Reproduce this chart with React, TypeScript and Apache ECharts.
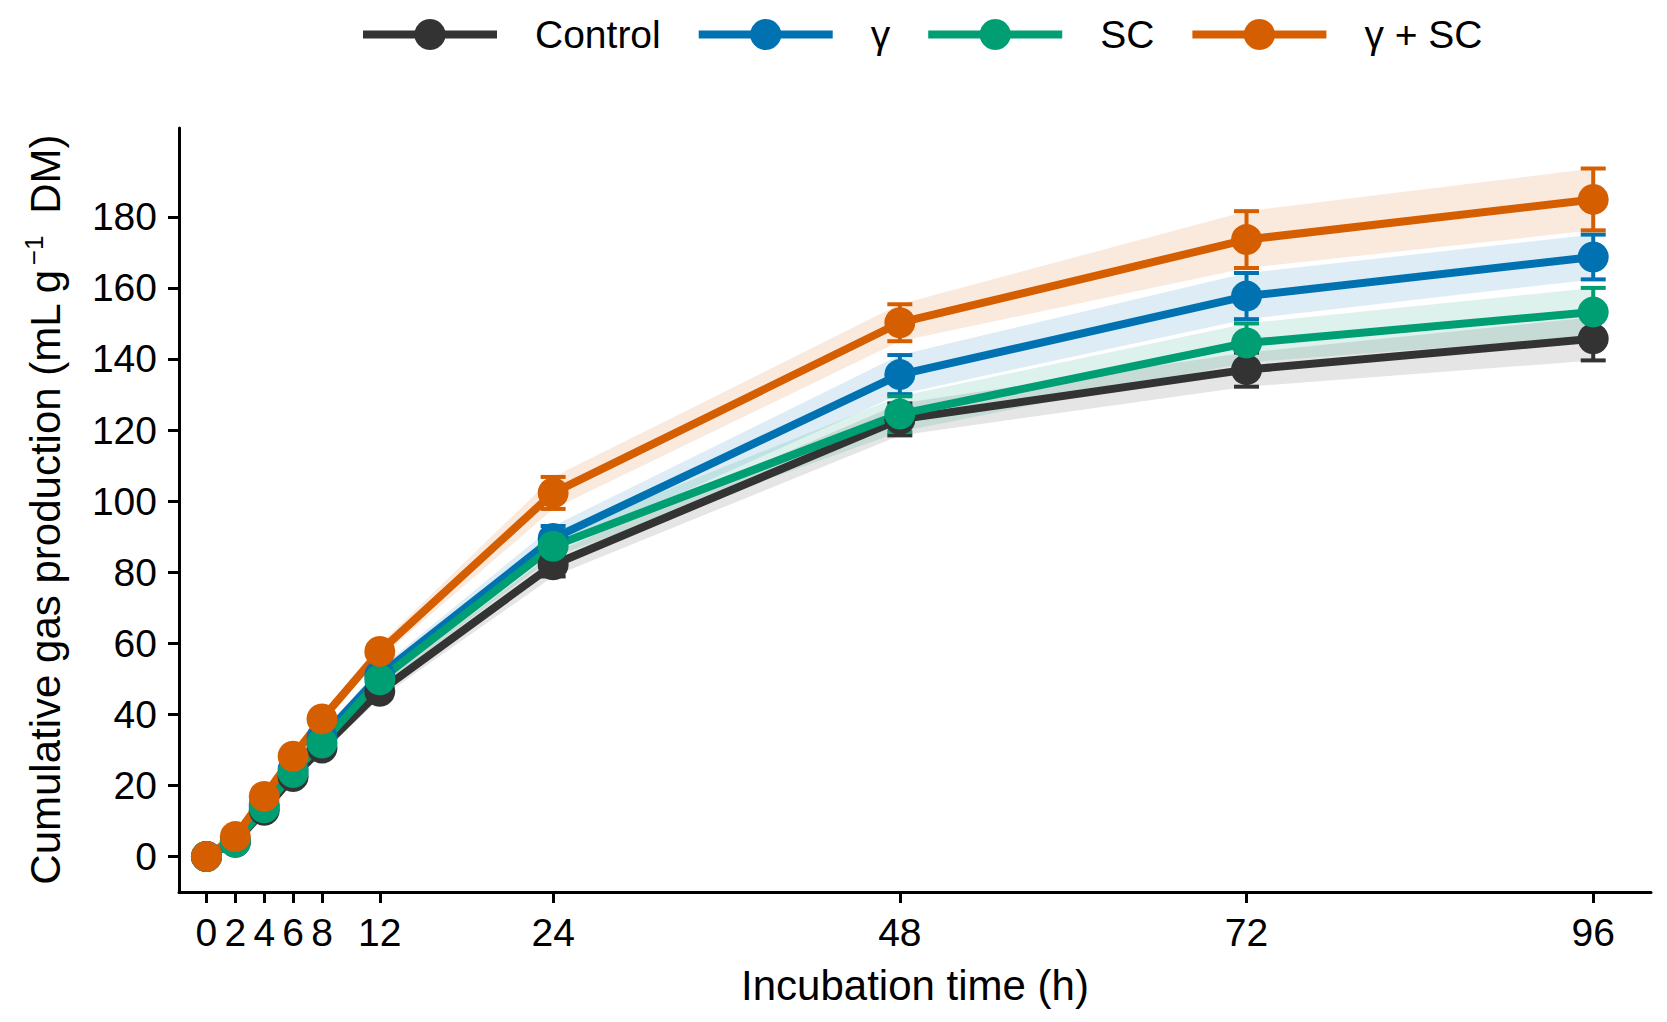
import React, { useEffect, useRef } from "react";
import * as echarts from "echarts";

const times = [0, 2, 4, 6, 8, 12, 24, 48, 72, 96];
const xTickValues = [0, 2, 4, 6, 8, 12, 24, 48, 72, 96];
const yTickValues = [0, 20, 40, 60, 80, 100, 120, 140, 160, 180];

const groupNames = ["Control", "γ", "SC", "γ + SC"];
const groupColors = ["#333333", "#0072B2", "#009E73", "#D55E00"];

const controlMean = [0, 4.0, 13.0, 22.5, 30.5, 46.5, 82.1, 123.0, 137.0, 145.7];
const gammaMean = [0, 4.5, 14.5, 24.5, 33.5, 51.0, 89.5, 135.6, 157.7, 168.7];
const scMean = [0, 4.0, 13.7, 23.6, 31.9, 49.7, 87.3, 124.5, 144.5, 153.2];
const gammaScMean = [0, 5.6, 16.9, 28.2, 38.7, 57.7, 102.3, 150.2, 173.6, 184.9];

const controlErr = [0, 0.5, 1, 1.5, 1.5, 2, 3.3, 4.5, 4.8, 6.1];
const gammaErr = [0, 0.5, 1, 1.5, 1.5, 2, 3.5, 5.5, 6.5, 6.3];
const scErr = [0, 0.5, 1, 1.5, 1.5, 2, 3.0, 5.0, 5.5, 6.8];
const gammaScErr = [0, 0.5, 1, 1.5, 1.5, 2, 4.5, 5.2, 8.0, 8.7];

const means = [controlMean, gammaMean, scMean, gammaScMean];
const errs = [controlErr, gammaErr, scErr, gammaScErr];

const FONT = "'Liberation Sans', Arial, sans-serif";

function hexToRgba(hex: string, a: number) {
  const r = parseInt(hex.slice(1, 3), 16);
  const g = parseInt(hex.slice(3, 5), 16);
  const b = parseInt(hex.slice(5, 7), 16);
  return `rgba(${r},${g},${b},${a})`;
}

export default function App() {
  const ref = useRef<HTMLDivElement>(null);

  useEffect(() => {
    if (!ref.current) return;
    const chart = echarts.init(ref.current, null, { renderer: "svg" });

    const series: any[] = [];

    // ribbons
    groupNames.forEach((name, gi) => {
      const m = means[gi];
      const e = errs[gi];
      const data = times.map((t, i) => [t, m[i] - e[i], m[i] + e[i]]);
      series.push({
        type: "custom",
        name: name + " band",
        z: 1,
        silent: true,
        encode: { x: 0, y: [1, 2] },
        data,
        renderItem: (params: any, api: any) => {
          if (params.dataIndex !== 0) return null;
          const upper = data.map((d) => api.coord([d[0], d[2]]));
          const lower = data.map((d) => api.coord([d[0], d[1]])).reverse();
          return {
            type: "polygon",
            shape: { points: upper.concat(lower) },
            style: { fill: hexToRgba(groupColors[gi], 0.13) },
          };
        },
      });
    });

    // error bars
    groupNames.forEach((name, gi) => {
      const m = means[gi];
      const e = errs[gi];
      const data = times.map((t, i) => [t, m[i] - e[i], m[i] + e[i]]);
      series.push({
        type: "custom",
        name: name + " err",
        z: 2,
        silent: true,
        encode: { x: 0, y: [1, 2] },
        data,
        renderItem: (params: any, api: any) => {
          const x = api.value(0);
          const lo = api.coord([x, api.value(1)]);
          const hi = api.coord([x, api.value(2)]);
          const hw = 12.5;
          const style = { stroke: groupColors[gi], lineWidth: 4 };
          return {
            type: "group",
            children: [
              { type: "line", shape: { x1: lo[0], y1: lo[1], x2: hi[0], y2: hi[1] }, style },
              { type: "line", shape: { x1: lo[0] - hw, y1: lo[1], x2: lo[0] + hw, y2: lo[1] }, style },
              { type: "line", shape: { x1: hi[0] - hw, y1: hi[1], x2: hi[0] + hw, y2: hi[1] }, style },
            ],
          };
        },
      });
    });

    // lines with points
    groupNames.forEach((name, gi) => {
      series.push({
        type: "line",
        name,
        z: 3,
        data: times.map((t, i) => [t, means[gi][i]]),
        symbol: "circle",
        symbolSize: 31,
        showSymbol: true,
        lineStyle: { width: 8, color: groupColors[gi] },
        itemStyle: { color: groupColors[gi] },
        emphasis: { disabled: true },
      });
    });

    const option: any = {
      animation: false,
      backgroundColor: "#ffffff",
      textStyle: { fontFamily: FONT },
      legend: {
        data: groupNames,
        left: 354,
        top: 10,
        itemWidth: 134,
        itemHeight: 39,
        itemGap: 34,
        lineStyle: { width: 8 },
        textStyle: {
          fontSize: 39,
          color: "#000",
          fontFamily: FONT,
          padding: [0, 0, 0, 33],
        },
      },
      grid: {
        left: 179,
        top: 128,
        width: 1472,
        height: 764,
        containLabel: false,
      },
      xAxis: {
        type: "value",
        min: -1.9,
        max: 100,
        name: "Incubation time (h)",
        nameLocation: "middle",
        nameGap: 72,
        nameTextStyle: { fontSize: 42, color: "#000", fontFamily: FONT },
        axisLine: { onZero: false, lineStyle: { color: "#000", width: 3 } },
        axisTick: {
          show: true,
          length: 11,
          lineStyle: { color: "#000", width: 3 },
          customValues: xTickValues,
        },
        axisLabel: {
          fontSize: 39,
          color: "#000",
          fontFamily: FONT,
          margin: 21,
          customValues: xTickValues,
        },
        splitLine: { show: false },
      },
      yAxis: {
        type: "value",
        min: -10,
        max: 205,
        name: "Cumulative gas production (mL g{sup|−1} DM)",
        nameLocation: "middle",
        nameGap: 110,
        nameTextStyle: {
          fontSize: 42,
          color: "#000",
          fontFamily: FONT,
          rich: {
            sup: {
              fontSize: 26,
              color: "#000",
              fontFamily: FONT,
              verticalAlign: "top",
              padding: [0, 10, 22, 4],
            },
          },
        },
        axisLine: { onZero: false, lineStyle: { color: "#000", width: 3 } },
        axisTick: {
          show: true,
          length: 11,
          lineStyle: { color: "#000", width: 3 },
          customValues: yTickValues,
        },
        axisLabel: {
          fontSize: 39,
          color: "#000",
          fontFamily: FONT,
          margin: 22,
          customValues: yTickValues,
        },
        splitLine: { show: false },
      },
      series,
    };

    chart.setOption(option);
    return () => chart.dispose();
  }, []);

  return (
    <div
      ref={ref}
      style={{ position: "fixed", left: 0, top: 0, width: 1667, height: 1022, background: "#fff" }}
    />
  );
}
